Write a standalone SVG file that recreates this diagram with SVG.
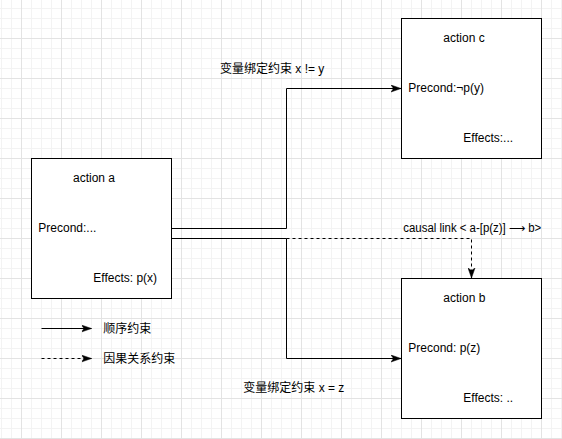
<svg xmlns="http://www.w3.org/2000/svg" width="562" height="439" viewBox="0 0 562 439">
<style>
.box{fill:#fff;stroke:#000;stroke-width:1}
.t{font-family:"Liberation Sans",Arial,sans-serif;font-size:12px;fill:#000}
.cn{font-family:"Liberation Sans","Noto Sans CJK SC",sans-serif;font-size:12px;fill:#000}
.ln{fill:none;stroke:#000;stroke-width:1}
.dash{stroke-dasharray:3,3}
</style>
<defs>
<pattern id="minor" x="1" y="8" width="10" height="10" patternUnits="userSpaceOnUse">
<path d="M0,0.5H10M0.5,0V10" fill="none" stroke="#f3f3f3" stroke-width="1"/>
</pattern>
<pattern id="major" x="21" y="38" width="40" height="40" patternUnits="userSpaceOnUse">
<path d="M0,0.5H40M0.5,0V40" fill="none" stroke="#e3e3e3" stroke-width="1"/>
</pattern>
<marker id="arr" markerUnits="userSpaceOnUse" markerWidth="10" markerHeight="8" viewBox="0 0 10 8" refX="10" refY="4" orient="auto">
<path d="M0,0.5L10,4L0,7.5L2.5,4Z" fill="#000" stroke="#000" stroke-width="0.5"/>
</marker>
</defs>
<rect width="562" height="439" fill="#fff"/>
<rect width="562" height="439" fill="url(#minor)"/>
<rect width="562" height="439" fill="url(#major)"/>

<g id="connectors">
<path class="ln" d="M171.5,228.5H286.5V88.5H401" marker-end="url(#arr)"/>
<path class="ln" d="M171.5,238.5H286.5V358.5H401" marker-end="url(#arr)"/>
<path class="ln dash" d="M286.5,238.5H471.5V278" marker-end="url(#arr)"/>
<text class="cn" x="220" y="72.5">变量绑定约束 x != y</text>
<text class="t" x="403.3" y="232" textLength="138" lengthAdjust="spacingAndGlyphs">causal link &lt; a-[p(z)] ⟶ b&gt;</text>
<text class="cn" x="243.3" y="391.5">变量绑定约束 x = z</text>
</g>

<g id="action-a">
<rect class="box" x="31.5" y="158.5" width="140" height="140"/>
<text class="t" x="73" y="182">action a</text>
<text class="t" x="38.3" y="232">Precond:...</text>
<text class="t" x="93.3" y="282">Effects: p(x)</text>
</g>

<g id="action-c">
<rect class="box" x="401.5" y="18.5" width="140" height="140"/>
<text class="t" x="443.3" y="42">action c</text>
<text class="t" x="408.3" y="92.3">Precond:¬p(y)</text>
<text class="t" x="463.3" y="141.5">Effects:...</text>
</g>

<g id="action-b">
<rect class="box" x="401.5" y="278.5" width="140" height="140"/>
<text class="t" x="443.3" y="302">action b</text>
<text class="t" x="408.3" y="351.5">Precond: p(z)</text>
<text class="t" x="463.3" y="402">Effects: ..</text>
</g>

<g id="legend">
<path class="ln" d="M41.5,328.5H91.5" marker-end="url(#arr)"/>
<path class="ln dash" d="M41.5,358.5H91.5" marker-end="url(#arr)"/>
<text class="cn" x="103.3" y="332.5">顺序约束</text>
<text class="cn" x="103.3" y="362.5">因果关系约束</text>
</g>
</svg>
